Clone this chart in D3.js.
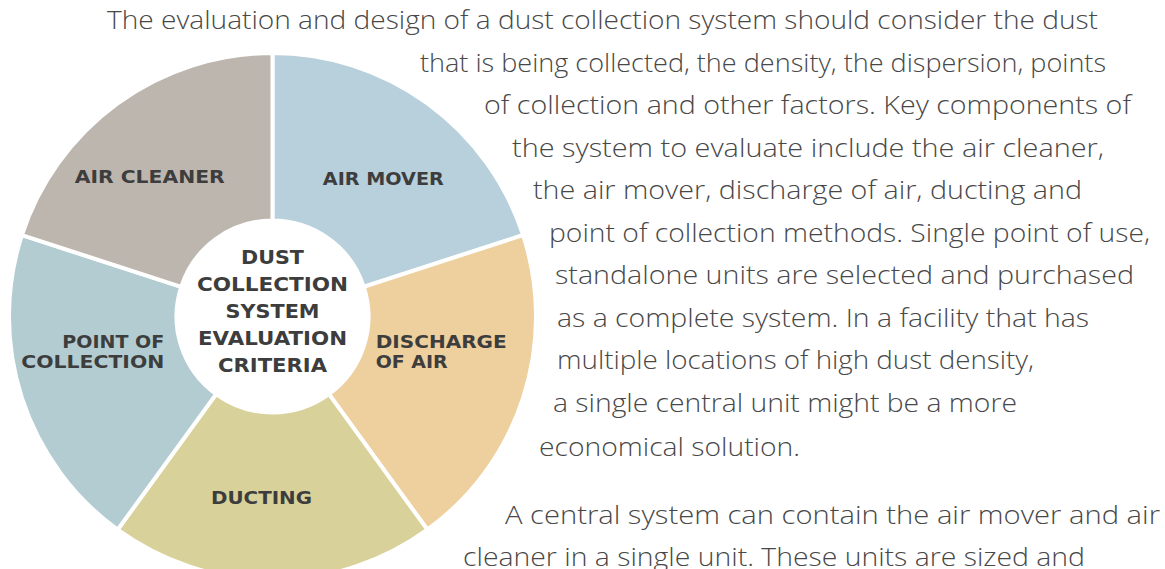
<!DOCTYPE html>
<html>
<head>
<meta charset="utf-8">
<script src="https://cdn.jsdelivr.net/npm/d3@7"></script>
<style>
    html, body { margin: 0; padding: 0; background: #ffffff; }
    svg { display: block; }
</style>
</head>
<body>
<svg id="chart" width="1165" height="569"></svg>
<script>
/*global d3*/
// slice data, clockwise from 12 o'clock
var categories = ["AIR MOVER", "DISCHARGE OF AIR", "DUCTING", "POINT OF COLLECTION", "AIR CLEANER"];
var labelLines = [["AIR MOVER"], ["DISCHARGE", "OF AIR"], ["DUCTING"], ["POINT OF", "COLLECTION"], ["AIR CLEANER"]];
var values = [1, 1, 1, 1, 1];
var colors = ["#b7d0dc", "#eecf9e", "#d8d29a", "#b2ccd1", "#bdb6ae"];
var centerTitle = ["DUST", "COLLECTION", "SYSTEM", "EVALUATION", "CRITERIA"];

// body copy that wraps around the wheel
var paragraphLines = [
    "The evaluation and design of a dust collection system should consider the dust",
    "that is being collected, the density, the dispersion, points",
    "of collection and other factors. Key components of",
    "the system to evaluate include the air cleaner,",
    "the air mover, discharge of air, ducting and",
    "point of collection methods. Single point of use,",
    "standalone units are selected and purchased",
    "as a complete system. In a facility that has",
    "multiple locations of high dust density,",
    "a single central unit might be a more",
    "economical solution.",
    "A central system can contain the air mover and air",
    "cleaner in a single unit. These units are sized and"
];

(function () {
    "use strict";
    var svg = d3.select("#chart"),
        cx = 272.5,
        cy = 316.5,
        outerR = 263.5,
        innerR = 96,
        labelR = 180,
        // layout for the wrapped text: left edge, right edge, baseline
        lineStart = [107, 420, 484, 512, 533, 549, 555, 557, 557, 553, 539, 505, 463],
        lineEnd = [1098, 1106, 1131, 1104, 1082, 1150, 1134, 1089, 1034, 1017, 800, 1160, 1085],
        lineBase = [29, 72, 114, 157, 199, 242, 284, 327, 369, 412, 456, 524, 566],
        // label placement tweaks relative to the slice centroid
        labelShift = [[5, 14], [-68, -24], [-11, 7.5], [63, -24], [-17, 12]],
        labelAnchor = ["middle", "start", "middle", "end", "middle"],
        labelWidths = [[121], [131, 72], [101], [102, 143], [150]],
        titleWidths = [63, 151, 94, 149, 109],
        pie,
        arc,
        labelArc,
        wheel,
        slices;

    pie = d3.pie().sort(null).value(function (d) { return d; });
    arc = d3.arc().innerRadius(innerR).outerRadius(outerR);
    labelArc = d3.arc().innerRadius(labelR).outerRadius(labelR);

    wheel = svg.append("g")
        .attr("transform", "translate(" + cx + "," + cy + ")");

    slices = wheel.selectAll("g.slice")
        .data(pie(values))
        .enter().append("g")
        .attr("class", "slice");

    slices.append("path")
        .attr("d", arc)
        .attr("fill", function (d, i) { return colors[i]; })
        .attr("stroke", "#ffffff")
        .attr("stroke-width", 4)
        .attr("stroke-linejoin", "miter");

    // slice labels
    slices.each(function (d, i) {
        var c = labelArc.centroid(d),
            x = c[0] + labelShift[i][0],
            y = c[1] + labelShift[i][1];

        d3.select(this).selectAll("text")
            .data(labelLines[i])
            .enter().append("text")
            .attr("x", x)
            .attr("y", function (t, j) { return y + j * 20; })
            .attr("text-anchor", labelAnchor[i])
            .attr("textLength", function (t, j) { return labelWidths[i][j]; })
            .attr("lengthAdjust", "spacingAndGlyphs")
            .attr("font-family", "'Century Gothic', 'DejaVu Sans', sans-serif")
            .attr("font-weight", "bold")
            .attr("font-size", 17)
            .attr("fill", "#3d3d3d")
            .text(function (t) { return t; });
    });

    // hub title
    wheel.selectAll("text.title")
        .data(centerTitle)
        .enter().append("text")
        .attr("class", "title")
        .attr("x", 0)
        .attr("y", function (t, j) { return -52.5 + j * 27; })
        .attr("text-anchor", "middle")
        .attr("textLength", function (t, j) { return titleWidths[j]; })
        .attr("lengthAdjust", "spacingAndGlyphs")
        .attr("font-family", "'Century Gothic', 'DejaVu Sans', sans-serif")
        .attr("font-weight", "bold")
        .attr("font-size", 19)
        .attr("fill", "#3d3d3d")
        .text(function (t) { return t; });

    // wrapped paragraph text
    svg.append("g").selectAll("text")
        .data(paragraphLines)
        .enter().append("text")
        .attr("x", function (t, i) { return lineStart[i]; })
        .attr("y", function (t, i) { return lineBase[i]; })
        .attr("textLength", function (t, i) { return lineEnd[i] - lineStart[i]; })
        .attr("lengthAdjust", "spacingAndGlyphs")
        .attr("font-family", "'Century Gothic', 'Open Sans', sans-serif")
        .attr("font-weight", 300)
        .attr("font-size", 25)
        .attr("fill", "#484848")
        .text(function (t) { return t; });
}());
</script>
</body>
</html>
